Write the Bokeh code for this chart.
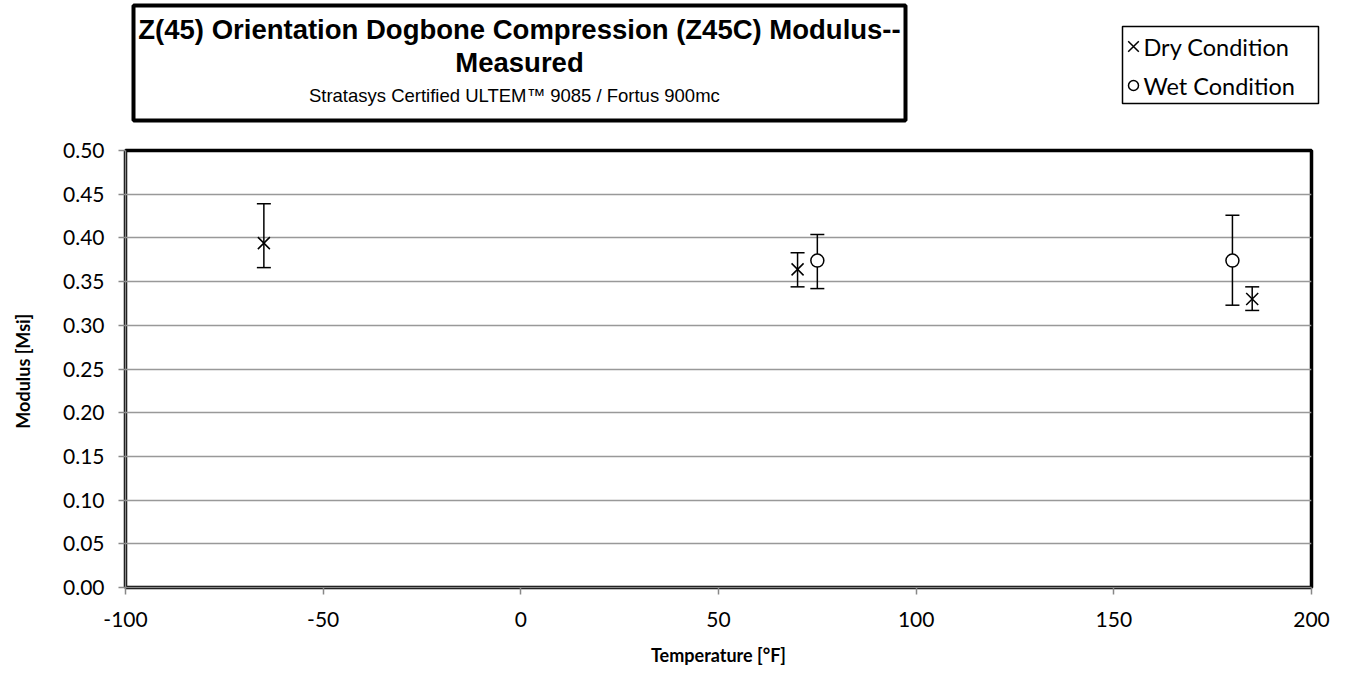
from bokeh.plotting import figure
from bokeh.layouts import column
from bokeh.models import (ColumnDataSource, Whisker, TeeHead, FixedTicker, NumeralTickFormatter,
                          PrintfTickFormatter, Range1d)
from bokeh.core.properties import value
from bokeh.embed import file_html
from bokeh.resources import INLINE

# ---- data ----
dry_temp = [-65, 70, 185]
dry_mod = [0.394, 0.364, 0.330]
dry_lo = [0.366, 0.344, 0.317]
dry_hi = [0.439, 0.383, 0.344]

wet_temp = [75, 180]
wet_mod = [0.374, 0.374]
wet_lo = [0.342, 0.323]
wet_hi = [0.404, 0.426]

x_ticks = [-100, -50, 0, 50, 100, 150, 200]
y_ticks = [0.0, 0.05, 0.10, 0.15, 0.20, 0.25, 0.30, 0.35, 0.40, 0.45, 0.50]

title_line1 = "Z(45) Orientation Dogbone Compression (Z45C) Modulus--"
title_line2 = "Measured"
subtitle = "Stratasys Certified  ULTEM\u2122  9085 / Fortus 900mc"
legend_labels = ["Dry Condition", "Wet Condition"]

W = 1351
HEAD_H = 125
MAIN_H = 673 - HEAD_H

# ---------------- header (title box + legend), pixel coordinates ----------------
h = figure(width=W, height=HEAD_H, output_backend="svg", toolbar_location=None,
           x_range=Range1d(0, W), y_range=Range1d(HEAD_H, 0),
           min_border=0, min_border_left=0, min_border_right=0, min_border_top=0, min_border_bottom=0)
h.frame_align = False
h.axis.visible = False
h.grid.visible = False
h.outline_line_color = None
h.background_fill_color = "white"
h.border_fill_color = "white"

h.quad(left=[133], right=[905], top=[5], bottom=[120], fill_color=None, line_color="black", line_width=4)
h.text(x=[519, 519], y=[29, 62], text=[title_line1, title_line2],
       text_font=value("Liberation Sans"), text_font_style="bold", text_font_size="27.5px",
       text_align="center", text_baseline="middle", text_color="black")
h.text(x=[519], y=[95], text=[subtitle],
       text_font=value("Liberation Sans"), text_font_size="18.5px",
       text_align="center", text_baseline="middle", text_color="black")

# legend
h.quad(left=[1122], right=[1318], top=[26], bottom=[103], fill_color="white", line_color="black",
       line_width=1.5)
h.scatter(x=[1133], y=[46], marker="x", size=15, line_color="black", line_width=1.5)
h.scatter(x=[1133], y=[85], marker="circle", size=10, line_color="black", line_width=1.5,
          fill_color="white")
h.text(x=[1143, 1143], y=[46, 85], text=legend_labels, text_font=value("Lato"),
       text_font_size="23.5px", text_align="left", text_baseline="middle", text_color="black")

# ---------------- main chart ----------------
FL, FT, FW, FH = 125, 25, 1186, 437
p = figure(width=W, height=MAIN_H, output_backend="svg", toolbar_location=None,
           x_range=Range1d(-100, 200), y_range=Range1d(0, 0.5),
           min_border_left=FL, min_border_top=FT,
           min_border_right=W - FL - FW, min_border_bottom=MAIN_H - FT - FH)
p.frame_align = False
p.outline_line_color = "black"
p.outline_line_width = 3.5
p.background_fill_color = "white"
p.border_fill_color = "white"

p.xgrid.visible = False
p.ygrid.grid_line_color = "#999999"
p.ygrid.grid_line_width = 1.5
p.xaxis.ticker = FixedTicker(ticks=x_ticks)
p.yaxis.ticker = FixedTicker(ticks=y_ticks)
p.xaxis.formatter = PrintfTickFormatter(format="%d")
p.yaxis.formatter = NumeralTickFormatter(format="0.00")
for ax in (p.xaxis, p.yaxis):
    ax.axis_line_color = "#888888"
    ax.axis_line_width = 1.5
    ax.major_tick_line_color = "#888888"
    ax.major_tick_line_width = 1.5
    ax.major_tick_in = 0
    ax.major_tick_out = 7
    ax.minor_tick_line_color = None
    ax.major_label_text_font = "Lato"
    ax.major_label_text_font_size = "21px"
    ax.major_label_text_color = "black"
    ax.axis_label_text_font = "Lato"
    ax.axis_label_text_font_style = "bold"
    ax.axis_label_text_font_size = "18px"
    ax.axis_label_text_color = "black"
p.xaxis.axis_label = "Temperature [\u00b0F]"
p.yaxis.axis_label = "Modulus  [Msi]"
p.xaxis.major_label_standoff = 17
p.yaxis.major_label_standoff = 14
p.xaxis.axis_label_standoff = 14
p.yaxis.axis_label_standoff = 26

dry = ColumnDataSource(dict(x=dry_temp, y=dry_mod, lo=dry_lo, hi=dry_hi))
wet = ColumnDataSource(dict(x=wet_temp, y=wet_mod, lo=wet_lo, hi=wet_hi))

for src in (dry, wet):
    w = Whisker(source=src, base="x", lower="lo", upper="hi", line_color="black", line_width=1.5,
                upper_head=TeeHead(size=14, line_color="black", line_width=1.5),
                lower_head=TeeHead(size=14, line_color="black", line_width=1.5))
    p.add_layout(w)

p.scatter("x", "y", source=dry, marker="x", size=17, line_color="black", line_width=1.5)
p.scatter("x", "y", source=wet, marker="circle", size=13, line_color="black",
          line_width=1.5, fill_color="white")

layout = column(h, p, spacing=0)
open("out.html", "w").write(file_html(layout, INLINE))
